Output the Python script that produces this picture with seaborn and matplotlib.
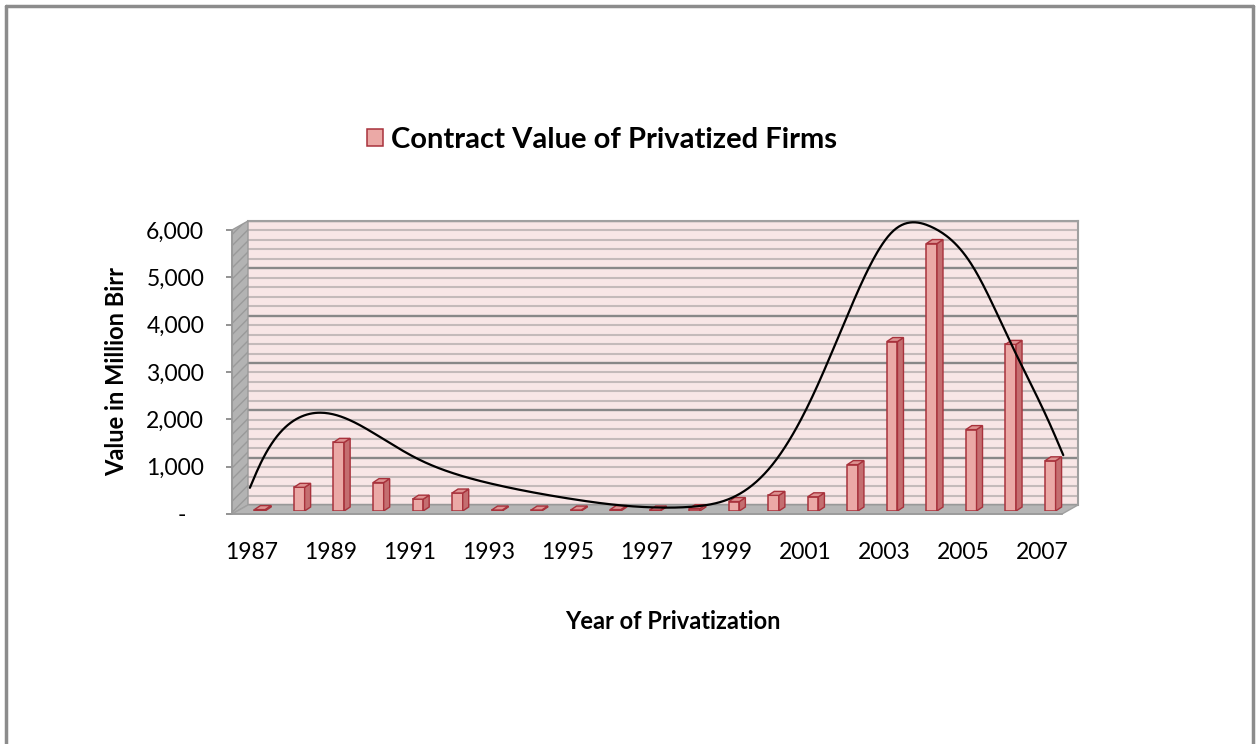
import numpy as np
import pandas as pd
import matplotlib
matplotlib.use("Agg")
import matplotlib.pyplot as plt
from matplotlib.patches import Polygon
from matplotlib.lines import Line2D
import seaborn as sns

# ---- data -------------------------------------------------------------
years = list(range(1987, 2008))
contract_value = [30, 500, 1450, 600, 250, 380, 20, 20, 20, 30, 20, 50,
                  200, 330, 300, 980, 3580, 5650, 1720, 3520, 1060]

# hand-fitted trend curve (year, value), drawn as a smoothed line
trend_years = [1986.75] + years + [2007.33]
trend_values = [490, 970, 1975, 2010, 1585, 1100, 770, 550, 380, 240, 130, 75,
                95, 300, 1010, 2450, 4390, 5895, 6000, 5220, 3550, 1820, 1180]

y_ticks = [0, 1000, 2000, 3000, 4000, 5000, 6000]
y_tick_labels = ["-   ", "1,000", "2,000", "3,000", "4,000", "5,000", "6,000"]
x_tick_years = years[::2]

series_name = "Contract Value of Privatized Firms"
df = pd.DataFrame({"year": [str(y) for y in years], "value": contract_value})

# ---- figure / styling ---------------------------------------------------
W, H = 1256, 744
sns.set_theme(style="white")
plt.rcParams["font.family"] = ["Lato", "DejaVu Sans"]
plt.rcParams["text.color"] = "black"
plt.rcParams["axes.labelcolor"] = "black"
plt.rcParams["hatch.color"] = "#CDCDCD"

fig = plt.figure(figsize=(W / 100, H / 100), dpi=100)
fig.patch.set_facecolor("white")


def px_rect(left, right, top, bottom):
    """Axes rectangle from pixel edges (origin top-left)."""
    return [left / W, 1 - bottom / H, (right - left) / W, (bottom - top) / H]


def fig_pts(points):
    return [(x / W, 1 - y / H) for x, y in points]


def natural_spline(x, y, samples=600):
    """Natural cubic spline through (x, y), sampled densely for plotting."""
    x = np.asarray(x, float)
    y = np.asarray(y, float)
    k = len(x)
    h = np.diff(x)
    A = np.zeros((k, k))
    r = np.zeros(k)
    A[0, 0] = A[-1, -1] = 1.0
    for i in range(1, k - 1):
        A[i, i - 1] = h[i - 1]
        A[i, i] = 2 * (h[i - 1] + h[i])
        A[i, i + 1] = h[i]
        r[i] = 6 * ((y[i + 1] - y[i]) / h[i] - (y[i] - y[i - 1]) / h[i - 1])
    M = np.linalg.solve(A, r)
    xs = np.linspace(x[0], x[-1], samples)
    j = np.clip(np.searchsorted(x, xs) - 1, 0, k - 2)
    hj = h[j]
    a = x[j + 1] - xs
    b = xs - x[j]
    ys = (M[j] * a ** 3 + M[j + 1] * b ** 3) / (6 * hj) \
        + (y[j] / hj - M[j] * hj / 6) * a + (y[j + 1] / hj - M[j + 1] * hj / 6) * b
    return xs, ys


# plane geometry of the pseudo-3D box (pixels)
FRONT = dict(left=232, right=1062, top=230, bottom=514)
DEPTH = (16, -9)       # front plane -> back wall
BAR_SHIFT = (8, -3)    # front plane -> plane the bars stand in

BACK = dict(left=FRONT["left"] + DEPTH[0], right=FRONT["right"] + DEPTH[0],
            top=FRONT["top"] + DEPTH[1], bottom=FRONT["bottom"] + DEPTH[1])
BARS = dict(left=FRONT["left"] + BAR_SHIFT[0], right=FRONT["right"] + BAR_SHIFT[0],
            top=FRONT["top"] + BAR_SHIFT[1], bottom=FRONT["bottom"] + BAR_SHIFT[1])

ymax = 6000
n = len(years)

# back wall with gridlines
ax_back = fig.add_axes(px_rect(**BACK), zorder=0)
ax_back.set_facecolor("#F8E6E6")
ax_back.set_xlim(0, 1)
ax_back.set_ylim(0, ymax)
ax_back.set_yticks(y_ticks)
ax_back.set_yticks(np.arange(0, ymax + 1, 200), minor=True)
ax_back.set_xticks([])
ax_back.tick_params(axis="y", which="both", length=0, labelleft=False)
ax_back.grid(axis="y", which="minor", color="#C4BABA", lw=1.5)
ax_back.grid(axis="y", which="major", color="#888888", lw=1.7)
for side in ("left", "bottom"):
    ax_back.spines[side].set_visible(False)
for side in ("top", "right"):
    ax_back.spines[side].set_color("#A0A0A0")
    ax_back.spines[side].set_linewidth(1.5)

# side wall and floor
left_wall = Polygon(fig_pts([(FRONT["left"], FRONT["bottom"]), (FRONT["left"], FRONT["top"]),
                             (BACK["left"], BACK["top"]), (BACK["left"], BACK["bottom"])]),
                    closed=True, transform=fig.transFigure, facecolor="#B3B3B3",
                    edgecolor="#9A9A9A", lw=1.0, hatch="///", zorder=0.5)
floor = Polygon(fig_pts([(FRONT["left"], FRONT["bottom"]), (FRONT["right"], FRONT["bottom"]),
                         (BACK["right"], BACK["bottom"]), (BACK["left"], BACK["bottom"])]),
                closed=True, transform=fig.transFigure, facecolor="#B5B5B5",
                edgecolor="#A0A0A0", lw=1.0, zorder=0.5)
fig.add_artist(left_wall)
fig.add_artist(floor)

# front plane: value axis and category labels
ax_front = fig.add_axes(px_rect(**FRONT), zorder=1)
ax_front.patch.set_alpha(0)
ax_front.set_xlim(-0.5, n - 0.5)
ax_front.set_ylim(0, ymax)
ax_front.set_xticks(np.arange(n)[::2])
ax_front.set_xticklabels([str(y) for y in x_tick_years])
ax_front.tick_params(axis="x", length=0, pad=20, labelsize=16.5, labelcolor="black")
ax_front.set_yticks(y_ticks)
ax_front.set_yticklabels(y_tick_labels)
ax_front.tick_params(axis="y", direction="out", length=4, width=1.2, color="#808080",
                     pad=16, labelsize=16.5, labelcolor="black", left=True)
for side in ("top", "right"):
    ax_front.spines[side].set_visible(False)
ax_front.spines["left"].set_color("#9A9A9A")
ax_front.spines["bottom"].set_color("#9A9A9A")
ax_front.set_ylabel("Value in Million Birr", fontsize=17, fontweight="bold",
                    labelpad=13)
ax_front.set_xlabel("Year of Privatization", fontsize=17, fontweight="bold")
ax_front.xaxis.set_label_coords((673 - FRONT["left"]) / (FRONT["right"] - FRONT["left"]),
                                (FRONT["bottom"] - 610) / (FRONT["bottom"] - FRONT["top"]))

# bar plane
ax = fig.add_axes(px_rect(**BARS), zorder=2)
ax.patch.set_alpha(0)
front_col, edge_col = "#EBA9A6", "#A8323C"
sns.barplot(data=df, x="year", y="value", ax=ax, width=0.27, color=front_col,
            edgecolor=edge_col, linewidth=1.1, saturation=1, errorbar=None,
            label=series_name)
ax.set_ylim(0, ymax)
ax.set_xlim(-0.5, n - 0.5)

# side and top faces give each bar its depth
bar_depth_px = np.array([6.0, 4.0])
to_disp = ax.transData
to_data = ax.transData.inverted()
for p in list(ax.patches):
    x0, y0 = p.get_x(), p.get_y()
    x1, y1 = x0 + p.get_width(), y0 + p.get_height()
    a, b, c = to_disp.transform([(x0, y1), (x1, y1), (x1, y0)])
    side = to_data.transform([c, b, b + bar_depth_px, c + bar_depth_px])
    top = to_data.transform([a, b, b + bar_depth_px, a + bar_depth_px])
    ax.add_patch(Polygon(side, closed=True, facecolor="#C46E70", edgecolor=edge_col, lw=1.0))
    ax.add_patch(Polygon(top, closed=True, facecolor="#DE9392", edgecolor=edge_col, lw=1.0))

# smoothed trend line
tx, ty = natural_spline(np.array(trend_years) - years[0], trend_values)
ax.plot(tx, ty, color="black", lw=1.6, clip_on=False)

ax.set_xticks([])
ax.set_yticks([])
ax.set_xlabel("")
ax.set_ylabel("")
for s in ax.spines.values():
    s.set_visible(False)

# legend above the plot
handles, labels = ax.get_legend_handles_labels()
ax.legend(handles[:1], labels[:1], loc="center", frameon=False,
          bbox_to_anchor=(602 / W, 1 - 140 / H), bbox_transform=fig.transFigure,
          prop={"weight": "bold", "size": 21}, handlelength=0.55, handleheight=0.55,
          handletextpad=0.3, borderaxespad=0, labelcolor="black")

# outer frame
frame_kw = dict(transform=fig.transFigure, color="#8C8C8C", lw=2.5)
fig.add_artist(Line2D([6 / W, 6 / W], [0, 1 - 6 / H], **frame_kw))
fig.add_artist(Line2D([6 / W, 1253 / W], [1 - 6 / H, 1 - 6 / H], **frame_kw))
fig.add_artist(Line2D([1253 / W, 1253 / W], [0, 1 - 6 / H], **frame_kw))

fig.savefig("out.png", dpi=100, facecolor="white")
